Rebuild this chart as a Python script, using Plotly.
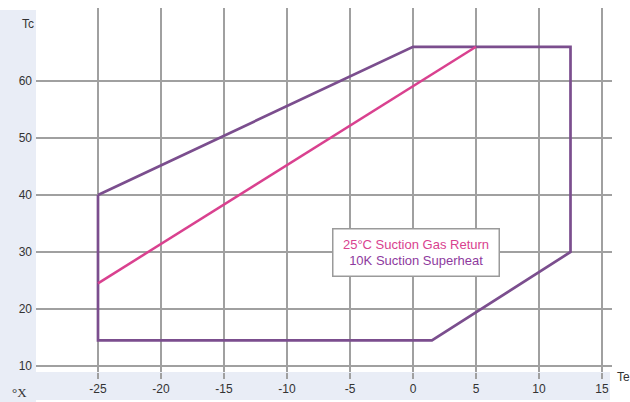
import plotly.graph_objects as go

# Envelope (10K suction superheat)
env_te = [-25, 0, 12.5, 12.5, 1.5, -25, -25]
env_tc = [40, 66, 66, 30, 14.5, 14.5, 40]
# 25°C suction gas return line
ret_te = [-25, 5]
ret_tc = [24.5, 66]

x_ticks = [-25, -20, -15, -10, -5, 0, 5, 10, 15]
y_ticks = [10, 20, 30, 40, 50, 60]

PURPLE = "#7b4e8e"
PINK = "#d9418f"
GRID = "#a0a0a0"
BLUE = "#e9edf6"
FONT = "Liberation Sans, Arial, sans-serif"

fig = go.Figure()
fig.add_trace(go.Scatter(x=env_te, y=env_tc, mode="lines",
                         line=dict(color=PURPLE, width=2.7), hoverinfo="skip"))
fig.add_trace(go.Scatter(x=ret_te, y=ret_tc, mode="lines",
                         line=dict(color=PINK, width=2.5), hoverinfo="skip"))

W, H = 630, 402
L, R, T, B = 36, 18, 8, 30
pw, ph = W - L - R, H - T - B

def px_x(p):
    return (p - L) / pw

def px_y(p):
    return (H - B - p) / ph

shapes = [
    dict(type="rect", xref="paper", yref="paper", layer="below",
         x0=px_x(0), x1=px_x(36), y0=px_y(402), y1=px_y(10),
         fillcolor=BLUE, line=dict(width=0)),
    dict(type="rect", xref="paper", yref="paper", layer="below",
         x0=px_x(0), x1=px_x(610), y0=px_y(400), y1=px_y(372),
         fillcolor=BLUE, line=dict(width=0)),
]

annotations = [
    dict(xref="paper", yref="paper", x=px_x(27.5), y=px_y(24), text="Tc",
         showarrow=False, xanchor="center", yanchor="middle",
         font=dict(family=FONT, size=12, color="#333")),
    dict(xref="paper", yref="paper", x=px_x(623), y=px_y(377), text="Te",
         showarrow=False, xanchor="center", yanchor="middle",
         font=dict(family=FONT, size=12, color="#333")),
    dict(xref="paper", yref="paper", x=px_x(19), y=px_y(392), text="°X",
         showarrow=False, xanchor="center", yanchor="middle",
         font=dict(family="Liberation Serif, Times New Roman, serif", size=13, color="#333")),
    dict(xref="paper", yref="paper", x=px_x(416), y=px_y(252.5),
         text=f"<span style='color:{PINK}'>25°C Suction Gas Return</span><br>"
              f"<span style='color:#8e3a9e'>10K Suction Superheat</span>",
         showarrow=False, xanchor="center", yanchor="middle",
         width=163, height=44, align="center",
         bgcolor="white", bordercolor="#9a9a9a", borderwidth=1.5,
         font=dict(family=FONT, size=13)),
]

fig.update_layout(
    width=W, height=H,
    margin=dict(l=L, r=R, t=T, b=B, autoexpand=False),
    paper_bgcolor="white", plot_bgcolor="white",
    showlegend=False,
    shapes=shapes, annotations=annotations,
    xaxis=dict(range=[(L - 413) / 12.6, (W - R - 413) / 12.6],
               tickvals=x_ticks, ticktext=[str(v) for v in x_ticks],
               showgrid=True, gridcolor=GRID, gridwidth=1.5,
               ticks="outside", ticklen=6, tickcolor=GRID, tickwidth=1.5,
               zeroline=False, showline=False, automargin=False,
               tickfont=dict(family=FONT, size=12, color="#333")),
    yaxis=dict(range=[10 - (372 - 366) / 5.7, 10 + (366 - 8) / 5.7],
               tickvals=y_ticks, ticktext=[str(v) for v in y_ticks],
               showgrid=True, gridcolor=GRID, gridwidth=1.5,
               zeroline=False, showline=False, ticks="", automargin=False,
               ticklabelstandoff=3,
               tickfont=dict(family=FONT, size=12, color="#333")),
)

fig.write_html("out.html", config={"displayModeBar": False},
               post_script="document.body.style.margin='0';")
